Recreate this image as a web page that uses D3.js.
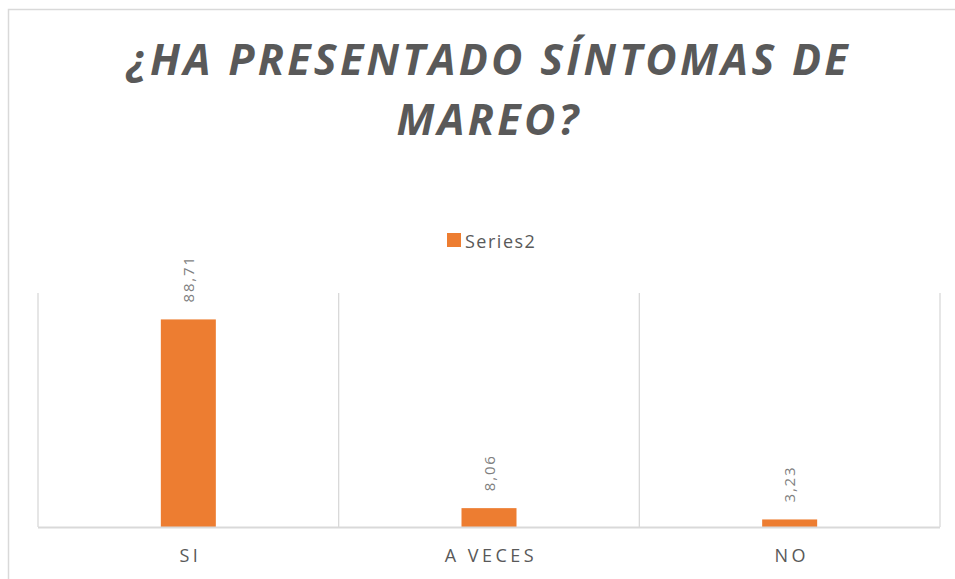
<!DOCTYPE html>
<html>
<head>
<meta charset="utf-8">
<script src="https://cdn.jsdelivr.net/npm/d3@7"></script>
<style>
  body { margin: 0; background: #fff; }
  text { font-family: "Open Sans", "Noto Sans", sans-serif; }
</style>
</head>
<body>
<div id="chart"></div>
<script>
'use strict';

// chart data
const categories = ['SI', 'A VECES', 'NO'];
const values     = [88.71, 8.06, 3.23];
const valueLabels = ['88,71', '8,06', '3,23'];
const seriesName = 'Series2';
const titleLines = ['¿HA PRESENTADO SÍNTOMAS DE', 'MAREO?'];

const width = 955, height = 579;
const plot = { left: 38, right: 940, top: 293, bottom: 527 };
const orange = '#ED7D31';
const grey = '#595959';
const gridColor = '#d9d9d9';

const svg = d3.select('#chart').append('svg')
  .attr('width', width)
  .attr('height', height);

// chart area border
svg.append('path')
  .attr('d', `M8.5,${height} V9.5 H${width}`)
  .attr('fill', 'none')
  .attr('stroke', gridColor)
  .attr('stroke-width', 1.5);

// title
const title = svg.append('g');
title.selectAll('text')
  .data(titleLines)
  .enter()
  .append('text')
  .attr('x', 489)
  .attr('y', (d, i) => 75 + i * 60)
  .attr('text-anchor', 'middle')
  .style('font-size', '43px')
  .style('font-weight', 'bold')
  .style('font-style', 'italic')
  .style('letter-spacing', '3.3px')
  .style('fill', grey)
  .text(d => d);

// legend
svg.append('rect')
  .attr('x', 447).attr('y', 233)
  .attr('width', 14).attr('height', 14)
  .attr('fill', orange);
svg.append('text')
  .attr('x', 465).attr('y', 248)
  .style('font-size', '18px')
  .style('letter-spacing', '1.5px')
  .style('fill', grey)
  .text(seriesName);

// scales
const x = d3.scaleBand()
  .domain(categories)
  .range([plot.left, plot.right]);

const y = d3.scaleLinear()
  .domain([0, 100])
  .range([plot.bottom, plot.top]);

// vertical category separators
const seps = d3.range(categories.length + 1).map(i => plot.left + i * x.step());
svg.append('g')
  .selectAll('line')
  .data(seps)
  .enter()
  .append('line')
  .attr('x1', d => d).attr('x2', d => d)
  .attr('y1', plot.top).attr('y2', plot.bottom)
  .attr('stroke', gridColor)
  .attr('stroke-width', 1.3);

// bars
const barW = 55;
svg.append('g')
  .selectAll('rect')
  .data(values)
  .enter()
  .append('rect')
  .attr('x', (d, i) => x(categories[i]) + x.bandwidth() / 2 - barW / 2)
  .attr('y', d => y(d))
  .attr('width', barW)
  .attr('height', d => y(0) - y(d))
  .attr('fill', orange);

// baseline
svg.append('line')
  .attr('x1', plot.left).attr('x2', plot.right)
  .attr('y1', plot.bottom + 0.5).attr('y2', plot.bottom + 0.5)
  .attr('stroke', gridColor)
  .attr('stroke-width', 2);

// value labels (rotated)
svg.append('g')
  .selectAll('text')
  .data(values)
  .enter()
  .append('text')
  .attr('transform', (d, i) => {
    const cx = x(categories[i]) + x.bandwidth() / 2 + 5.5;
    return `translate(${cx},${y(d) - 17}) rotate(-90)`;
  })
  .style('font-size', '15px')
  .style('letter-spacing', '1.8px')
  .style('fill', '#7f7f7f')
  .text((d, i) => valueLabels[i]);

// category labels
svg.append('g')
  .selectAll('text')
  .data(categories)
  .enter()
  .append('text')
  .attr('x', d => x(d) + x.bandwidth() / 2 + 2)
  .attr('y', 562)
  .attr('text-anchor', 'middle')
  .style('font-size', '18px')
  .style('letter-spacing', '3.5px')
  .style('fill', grey)
  .text(d => d);
</script>
</body>
</html>
